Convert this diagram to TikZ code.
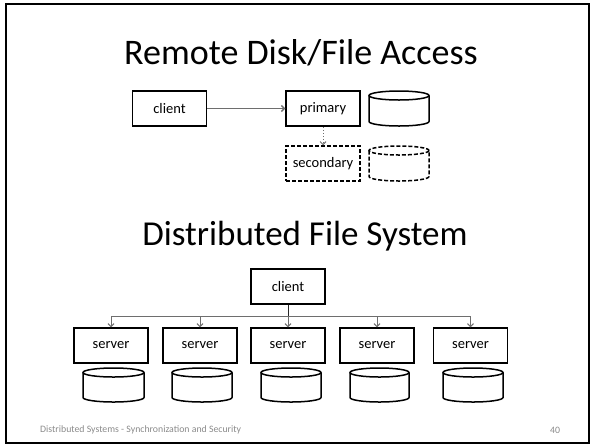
\documentclass[tikz,border=0pt]{standalone}
\usepackage{fontspec}
\setmainfont{Carlito}
\usetikzlibrary{arrows.meta}
\definecolor{linkgray}{HTML}{6E6E6E}
\definecolor{footgray}{HTML}{8A8A8A}
\tikzset{
  box/.style={draw=black, line width=1.5pt, minimum width=74pt, minimum height=35pt,
              inner sep=0pt, font=\fontsize{14.5}{17}\selectfont},
  dashedbox/.style={box, dash pattern=on 4pt off 2pt},
  link/.style={draw=linkgray, line width=1pt, -{Straight Barb[length=3pt,width=6pt]}},
  title/.style={font=\fontsize{36}{42}\selectfont, inner sep=0pt},
  footer/.style={font=\fontsize{9.8}{11}\selectfont, text=footgray, inner sep=0pt},
  disk/.style={draw=black, line width=1.5pt},
}
% disk drum: style, left, top, right, bottom (pixel units, y downwards)
\newcommand\drawdrum[5]{%
  \draw[disk,#1] ({(#2+#4)/2},{#3+4.5}) ellipse [x radius={(#4-#2)/2}, y radius=4.5];
  \draw[disk,#1] (#2,{#3+4.5}) -- (#2,{#5-4.5})
     arc [start angle=180, end angle=0, x radius={(#4-#2)/2}, y radius=4.5]
     -- (#4,{#3+4.5});
}
\begin{document}
\begin{tikzpicture}[x=1pt, y=-1pt]
  \useasboundingbox (0,0) rectangle (593,445);
  % slide frame
  \draw[line width=2pt] (6,4) rectangle (589,443);

  % upper part: remote access
  \node[title] (t1) at (301,53) {Remote Disk/File Access};
  \node[box] (cl1) at (169.5,108.5) {client};
  \node[box] (pri) at (323,108.5) {primary};
  \node[dashedbox] (sec) at (323,163.5) {secondary};
  \drawdrum{}{369}{91}{429}{126}
  \drawdrum{dash pattern=on 4pt off 2pt}{369}{146}{429}{181}
  \draw[link, line width=1.4pt] (cl1.east) -- (pri.west);
  \draw[link, dotted] (pri.south) -- (sec.north);

  % lower part: distributed file system
  \node[title, font=\fontsize{35}{41}\selectfont] (t2) at (305,236) {Distributed File System};
  \node[box] (cl2) at (288,286.5) {client};
  \foreach \i/\x in {1/111,2/200,3/288,4/377,5/470.5}{
    \node[box] (s\i) at (\x,345.5) {server};
  }
  \drawdrum{}{83}{368}{144}{402}
  \drawdrum{}{172}{368}{232}{402}
  \drawdrum{}{261}{368}{321}{402}
  \drawdrum{}{350}{368}{409}{402}
  \drawdrum{}{443}{368}{503}{402}

  \coordinate (bus) at (0,316);
  \draw[black!85, line width=1pt] (cl2.south) -- (cl2.south |- bus);
  \draw[linkgray, line width=1pt] (s1 |- bus) -- (s5 |- bus);
  \foreach \i in {1,...,5}{
    \draw[link] (s\i |- bus) -- (s\i.north);
  }

  % footer
  \node[footer, anchor=west] (foot) at (40,430) {Distributed Systems - Synchronization and Security};
  \node[footer] (pg) at (555,430) {40};
\end{tikzpicture}
\end{document}
